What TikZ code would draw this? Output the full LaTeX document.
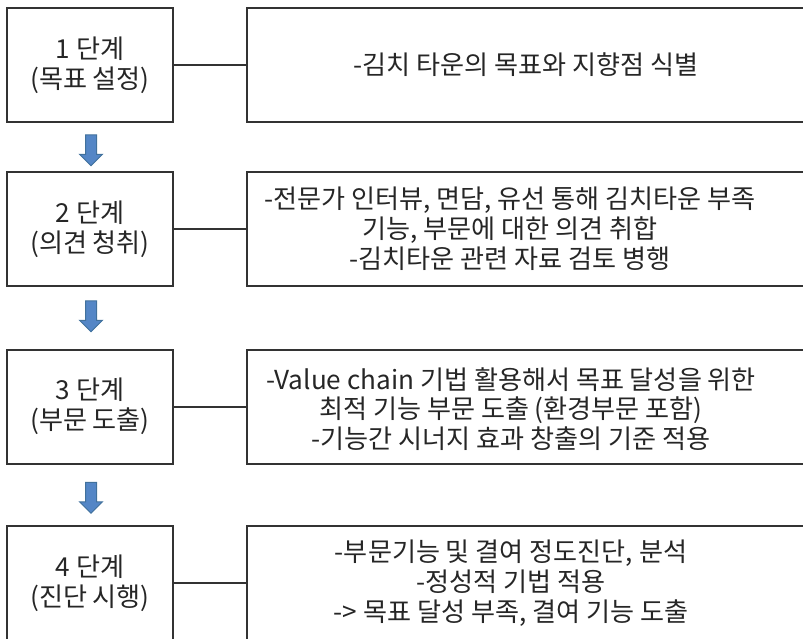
\documentclass[tikz,border=0pt]{standalone}
\usepackage{fontspec}
\setmainfont{Noto Sans CJK KR}
\usetikzlibrary{shapes.arrows}

\begin{document}
\begin{tikzpicture}[
  x=0.3mm, y=-0.3mm,
  font=\fontsize{22.3}{25.5}\selectfont,
  text=black!85,
  stage/.style={
    draw=black!80,
    line width=0.6mm,
    minimum width=49.8mm,
    minimum height=34.2mm,
    align=center,
    inner sep=0pt
  },
  detail/.style={
    draw=black!80,
    line width=0.6mm,
    minimum width=168.9mm,
    minimum height=34.2mm,
    inner sep=0pt
  },
  note/.style={align=center, inner sep=0pt},
  link/.style={line width=0.6mm, draw=black!80},
  nextarrow/.style={
    single arrow,
    rotate=-90,
    draw={rgb,255:red,65;green,113;blue,156},
    fill={rgb,255:red,84;green,134;blue,198},
    line width=0.3mm,
    inner sep=1.5mm,
    minimum height=9.3mm,
    minimum width=6.6mm,
    single arrow head extend=1.8mm,
    single arrow head indent=0pt
  }
]

\useasboundingbox (0,0) rectangle (803,638);
\clip (0,0) rectangle (803,638);

\node[stage] (s1) at (90,65) {1 단계\\(목표 설정)};
\node[stage] (s2) at (90,229) {2 단계\\(의견 청취)};
\node[stage] (s3) at (90,406.5) {3 단계\\(부문 도출)};
\node[stage] (s4) at (90,583) {4 단계\\(진단 시행)};

\node[detail] (d1) at (528.5,65) {};
\node[detail] (d2) at (528.5,229) {};
\node[detail] (d3) at (528.5,406.5) {};
\node[detail] (d4) at (528.5,583) {};

\node[note] (t1) at (526,65) {-김치 타운의 목표와 지향점 식별};
\node[note] (t2) at (510,229) {-전문가 인터뷰, 면담, 유선 통해 김치타운 부족\\기능, 부문에 대한 의견 취합\\-김치타운 관련 자료 검토 병행};
\node[note] (t3) at (511,409) {-Value chain 기법 활용해서 목표 달성을 위한\\최적 기능 부문 도출 (환경부문 포함)\\-기능간 시너지 효과 창출의 기준 적용};
\node[note] (t4) at (511,583) {-부문기능 및 결여 정도진단, 분석\\-정성적 기법 적용\\-> 목표 달성 부족, 결여 기능 도출};

\draw[link] (s1) -- (d1);
\draw[link] (s2) -- (d2);
\draw[link] (s3) -- (d3);
\draw[link] (s4) -- (d4);

\node[nextarrow] (a1) at (91,147.5) {};
\node[nextarrow] (a2) at (91,313.5) {};
\node[nextarrow] (a3) at (91,495) {};

\end{tikzpicture}
\end{document}
